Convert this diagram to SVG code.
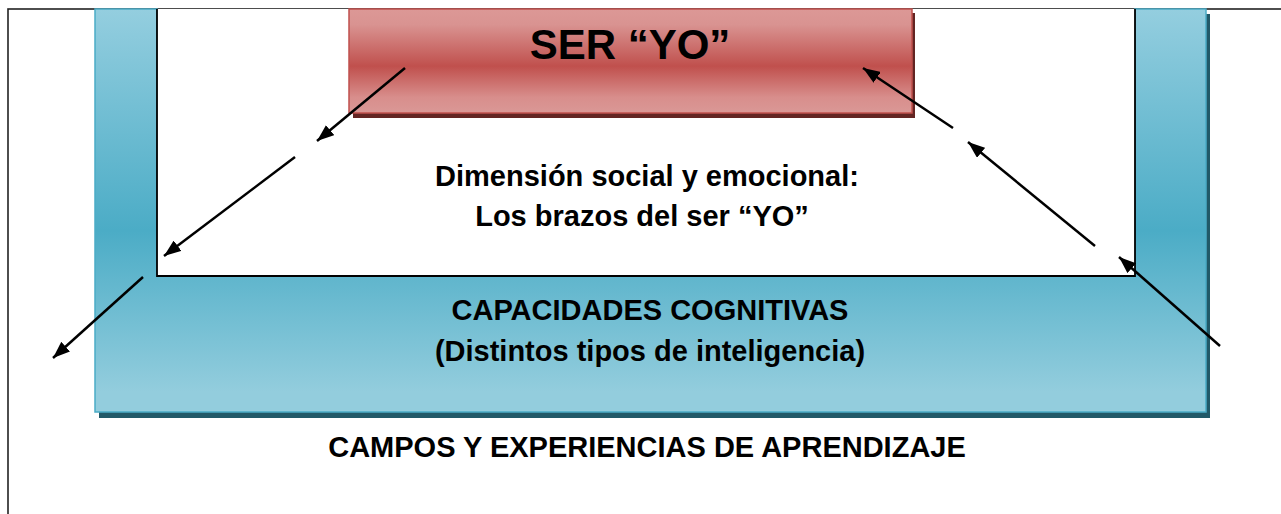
<svg xmlns="http://www.w3.org/2000/svg" width="1281" height="514" viewBox="0 0 1281 514">
<style>
.t{font-family:"Liberation Sans",Arial,sans-serif;font-weight:bold;fill:#000;text-anchor:middle}
.conn line{stroke:#000;stroke-width:2.5;marker-end:url(#ah)}
</style>
<defs>
<linearGradient id="gBlue" gradientUnits="userSpaceOnUse" x1="0" y1="9" x2="0" y2="412">
<stop offset="0" stop-color="#94cedf"/>
<stop offset="0.55" stop-color="#4bacc6"/>
<stop offset="0.95" stop-color="#93cddd"/>
<stop offset="1" stop-color="#93cddd"/>
</linearGradient>
<linearGradient id="gRed" x1="0" y1="0" x2="0" y2="1">
<stop offset="0" stop-color="#dc9896"/>
<stop offset="0.15" stop-color="#d99391"/>
<stop offset="0.55" stop-color="#c0504d"/>
<stop offset="0.85" stop-color="#d88e8c"/>
<stop offset="1" stop-color="#da9896"/>
</linearGradient>
<marker id="ah" viewBox="0 0 17 13" refX="17" refY="6.5" markerWidth="17" markerHeight="13" orient="auto" markerUnits="userSpaceOnUse">
<path d="M0,0 L17,6.5 L0,13 z" fill="#000"/>
</marker>
</defs>
<rect x="8" y="9" width="1400" height="600" fill="#fff" stroke="#222" stroke-width="1.6"/>
<g id="capacidades">
<path d="M99,14 H161 V281 H1139 V14 H1210 V418 H99 Z" fill="#215968"/>
<path d="M95,9 H157 V276 H1135 V9 H1206 V412 H95 Z" fill="url(#gBlue)" stroke="#4bacc6" stroke-width="1.5"/>
<rect x="157" y="9" width="978" height="267" fill="#fff"/>
<polyline points="157,9 157,276 1135,276 1135,9" fill="none" stroke="#000" stroke-width="1.8"/>
<text class="t" x="650" y="320" font-size="29">CAPACIDADES COGNITIVAS</text>
<text class="t" x="650" y="361" font-size="29">(Distintos tipos de inteligencia)</text>
</g>
<g id="ser-yo">
<rect x="353" y="13" width="562" height="105" fill="#632523"/>
<rect x="349" y="9" width="563" height="104" fill="url(#gRed)" stroke="#c0504d" stroke-width="1.5"/>
<text class="t" x="630" y="59" font-size="42">SER “YO”</text>
</g>
<g id="dimension">
<text class="t" x="647" y="186" font-size="29">Dimensión social y emocional:</text>
<text class="t" x="642" y="226" font-size="29">Los brazos del ser “YO”</text>
</g>
<g id="campos">
<text class="t" x="647" y="457" font-size="29">CAMPOS Y EXPERIENCIAS DE APRENDIZAJE</text>
</g>
<g class="conn" id="connectors">
<line x1="405" y1="68" x2="317" y2="141"/>
<line x1="295" y1="157" x2="164" y2="256"/>
<line x1="143" y1="277" x2="53" y2="358"/>
<line x1="1220" y1="346" x2="1119" y2="257"/>
<line x1="1095" y1="246" x2="968" y2="142"/>
<line x1="953" y1="128" x2="863" y2="68"/>
</g>
</svg>
